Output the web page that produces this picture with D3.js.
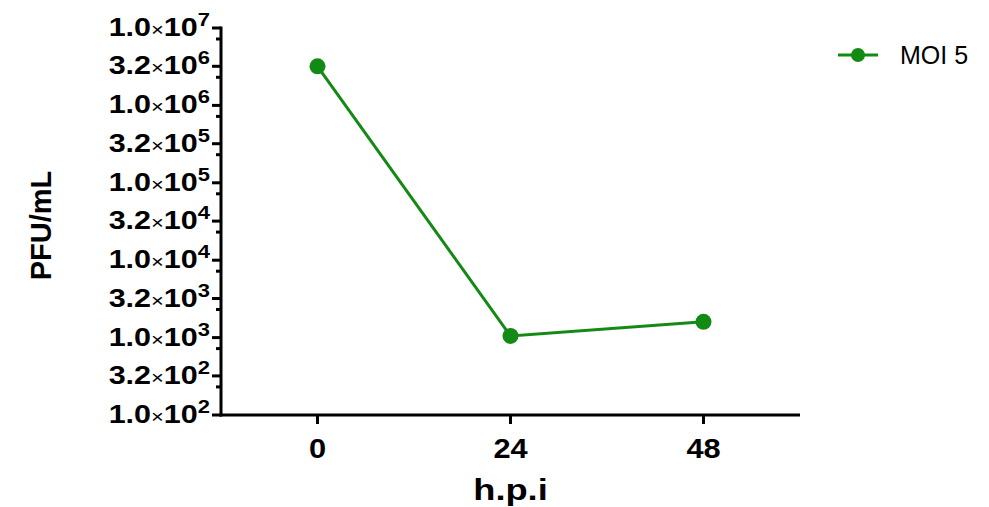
<!DOCTYPE html>
<html>
<head>
<meta charset="utf-8">
<script src="https://cdn.jsdelivr.net/npm/d3@7"></script>
<style>
  body { margin: 0; background: #fff; }
  svg { font-family: "Liberation Sans", Arial, sans-serif; }
</style>
</head>
<body>
<div id="container"></div>
<script>
const hours = [0, 24, 48];
const pfu = [3.2e6, 1.05e3, 1.6e3];
const seriesName = "MOI 5";
const yTicks = [1e2, 3.2e2, 1e3, 3.2e3, 1e4, 3.2e4, 1e5, 3.2e5, 1e6, 3.2e6, 1e7];
const xTicks = [0, 24, 48];

const green = "#138a13";
const W = 989, H = 507;
const margin = { top: 28, right: 189, bottom: 92, left: 221 };
const width = W - margin.left - margin.right;
const height = H - margin.top - margin.bottom;

const svg = d3.select("#container").append("svg")
    .attr("width", W)
    .attr("height", H)
  .append("g")
    .attr("transform", `translate(${margin.left},${margin.top})`);

const x = d3.scaleLinear().domain([-12, 60]).range([0, width]);
const y = d3.scaleLog().domain([1e2, 1e7]).range([height, 0]);

// y axis
const yAxis = svg.append("g");
yAxis.append("line")
    .attr("x1", 0).attr("x2", 0)
    .attr("y1", -1.5).attr("y2", height + 1.5)
    .attr("stroke", "#000").attr("stroke-width", 3);

yAxis.selectAll(".major")
    .data(yTicks)
  .enter().append("line")
    .attr("x1", -9).attr("x2", 0)
    .attr("y1", d => y(d)).attr("y2", d => y(d))
    .attr("stroke", "#000").attr("stroke-width", 3);

// small minor ticks just under each major one
yAxis.selectAll(".minor")
    .data(yTicks.slice(1))
  .enter().append("line")
    .attr("x1", -5).attr("x2", 0)
    .attr("y1", d => y(d) + 11).attr("y2", d => y(d) + 11)
    .attr("stroke", "#000").attr("stroke-width", 3);

const lab = yAxis.selectAll(".lab")
    .data(yTicks)
  .enter().append("text")
    .attr("transform", d => `translate(-11,${y(d) + 8}) scale(1.22,1)`)
    .attr("text-anchor", "end")
    .style("font-size", "25px")
    .style("font-weight", "bold");

lab.each(function (d) {
    const p = Math.floor(Math.log10(d) + 1e-9);
    const m = d / Math.pow(10, p);
    const t = d3.select(this);
    t.append("tspan").text(m.toFixed(1));
    t.append("tspan").text("×").style("font-weight", "normal").style("font-size", "18px");
    t.append("tspan").text("10");
    t.append("tspan").text(p).attr("dy", -10).style("font-size", "18px");
});

// x axis
const xAxis = svg.append("g").attr("transform", `translate(0,${height})`);
xAxis.append("line")
    .attr("x1", -1.5).attr("x2", width)
    .attr("stroke", "#000").attr("stroke-width", 3);
xAxis.selectAll(".xt")
    .data(xTicks)
  .enter().append("line")
    .attr("x1", d => x(d)).attr("x2", d => x(d))
    .attr("y1", 0).attr("y2", 9)
    .attr("stroke", "#000").attr("stroke-width", 3);
xAxis.selectAll(".xl")
    .data(xTicks)
  .enter().append("text")
    .attr("transform", d => `translate(${x(d)},43) scale(1.1,1)`)
    .attr("text-anchor", "middle")
    .style("font-size", "28px")
    .style("font-weight", "bold")
    .text(d => d);

// titles
svg.append("text")
    .attr("transform", `translate(${x(24)},${height + 85}) scale(1.25,1)`)
    .attr("text-anchor", "middle")
    .style("font-size", "29px")
    .style("font-weight", "bold")
    .text("h.p.i");

svg.append("text")
    .attr("transform", `translate(${-margin.left + 51},${height / 2 + 4}) rotate(-90)`)
    .attr("text-anchor", "middle")
    .style("font-size", "29px")
    .style("font-weight", "bold")
    .text("PFU/mL");

// series
const data = hours.map((h, i) => ({ h, v: pfu[i] }));
svg.append("path")
    .datum(data)
    .attr("fill", "none")
    .attr("stroke", green)
    .attr("stroke-width", 3)
    .attr("d", d3.line().x(d => x(d.h)).y(d => y(d.v)));

svg.selectAll(".dot")
    .data(data)
  .enter().append("circle")
    .attr("cx", d => x(d.h))
    .attr("cy", d => y(d.v))
    .attr("r", 8)
    .attr("fill", green);

// legend
const leg = svg.append("g").attr("transform", `translate(${838 - margin.left},${55 - margin.top})`);
leg.append("line")
    .attr("x1", 0).attr("x2", 40)
    .attr("stroke", green).attr("stroke-width", 3);
leg.append("circle").attr("cx", 20).attr("r", 7).attr("fill", green);
leg.append("text")
    .attr("transform", "translate(62,9)")
    .style("font-size", "25px")
    .text(seriesName);
</script>
</body>
</html>
